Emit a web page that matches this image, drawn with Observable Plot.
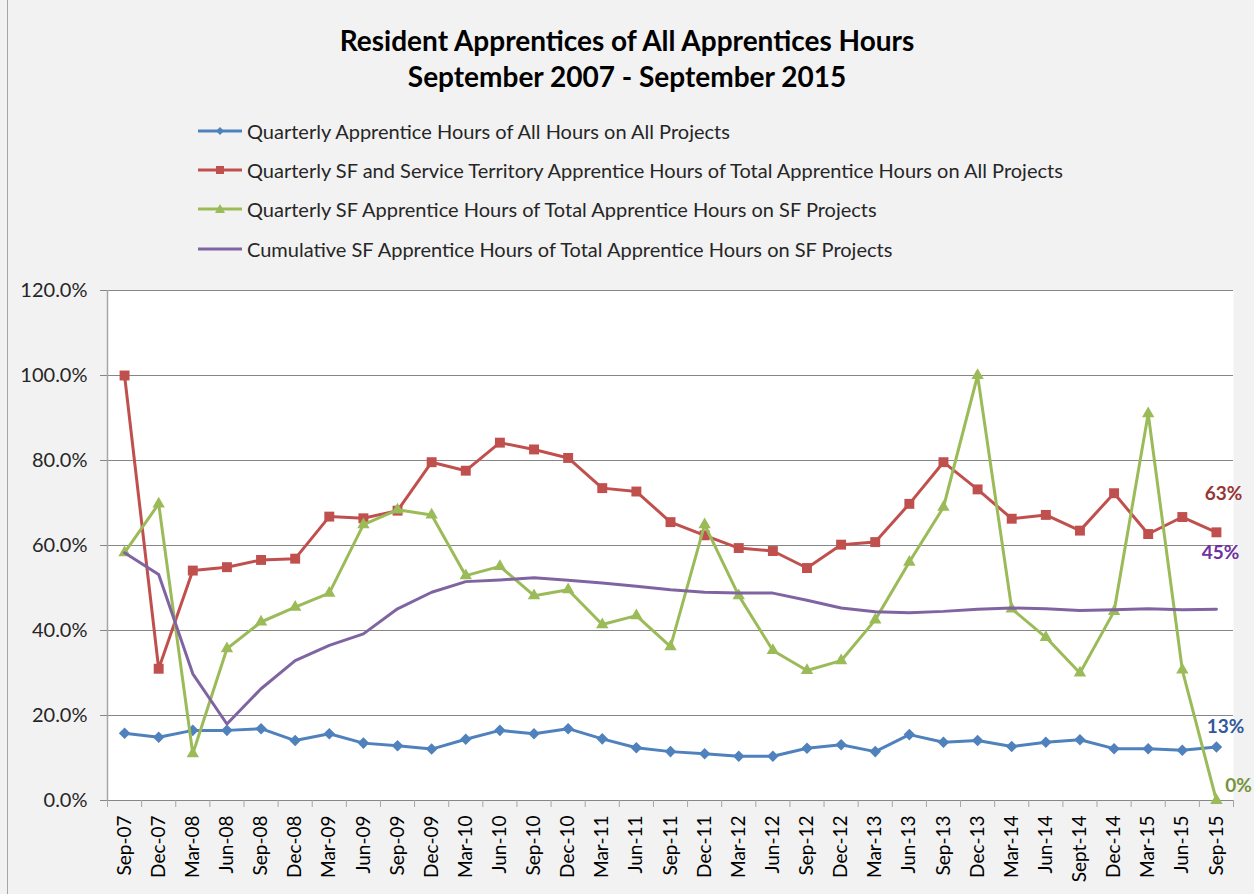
<!DOCTYPE html>
<html><head><meta charset="utf-8">
<script src="https://cdn.jsdelivr.net/npm/d3@7"></script>
<script src="https://cdn.jsdelivr.net/npm/@observablehq/plot@0.6"></script>
<style>
html,body{margin:0;padding:0;background:#f2f2f2;}
#wrap{position:relative;width:1254px;height:894px;background:#f2f2f2;font-family:Lato, "Open Sans", sans-serif;overflow:hidden}
#title{position:absolute;left:0;top:22px;width:1254px;text-align:center;font-weight:bold;font-size:28px;line-height:36px;color:#000}
#legend{position:absolute;left:196px;top:111px;}
.row{height:39.4px;display:flex;align-items:center;font-size:20px;color:#262626;white-space:nowrap}
.row svg{margin-right:3px}
#chart{position:absolute;left:0;top:270px}
#border{position:absolute;left:7px;top:0;width:1px;height:894px;background:#a6a6a6}
</style></head>
<body>
<div id="wrap">
  <div id="border"></div>
  <div id="title">Resident Apprentices of All Apprentices Hours<br>September 2007 - September 2015</div>
  <div id="legend"></div>
  <div id="chart"></div>
</div>
<script>
const categories = ["Sep-07","Dec-07","Mar-08","Jun-08","Sep-08","Dec-08","Mar-09","Jun-09","Sep-09","Dec-09","Mar-10","Jun-10","Sep-10","Dec-10","Mar-11","Jun-11","Sep-11","Dec-11","Mar-12","Jun-12","Sep-12","Dec-12","Mar-13","Jun-13","Sep-13","Dec-13","Mar-14","Jun-14","Sept-14","Dec-14","Mar-15","Jun-15","Sep-15"];
const quarterlyAll = [15.8,14.9,16.5,16.5,16.9,14.1,15.7,13.5,12.9,12.1,14.4,16.5,15.7,16.9,14.5,12.4,11.5,11.0,10.4,10.4,12.3,13.1,11.5,15.5,13.7,14.1,12.7,13.7,14.3,12.2,12.2,11.8,12.6];
const quarterlySFService = [100,31.0,54.1,54.9,56.6,56.9,66.8,66.4,68.2,79.6,77.6,84.2,82.6,80.6,73.5,72.7,65.5,62.4,59.4,58.7,54.7,60.2,60.8,69.8,79.6,73.2,66.3,67.2,63.5,72.3,62.7,66.7,63.1];
const quarterlySF = [58.3,69.8,11.0,35.7,42.0,45.5,48.8,64.9,68.4,67.2,52.9,55.1,48.2,49.6,41.4,43.5,36.2,64.9,48.2,35.3,30.6,32.9,42.5,56.1,69.0,100,45.1,38.4,30.0,44.5,91.0,30.7,0];
const cumulativeSF = [58.3,53.2,29.8,18.0,26.3,32.9,36.5,39.2,45.1,49.0,51.5,51.9,52.4,51.8,51.2,50.4,49.6,49.0,48.8,48.8,47.1,45.3,44.4,44.2,44.5,45.0,45.3,45.1,44.7,44.9,45.1,44.9,45.0];
const seriesNames = [
  "Quarterly Apprentice Hours of All Hours on All Projects",
  "Quarterly SF and Service Territory Apprentice Hours of Total Apprentice Hours on All Projects",
  "Quarterly SF Apprentice Hours of Total Apprentice Hours on SF Projects",
  "Cumulative SF Apprentice Hours of Total Apprentice Hours on SF Projects"
];
const yTicks = [0,20,40,60,80,100,120];

const colors = ["#4F81BD","#C0504D","#9BBB59","#8064A2"];
const labelColors = ["#31599A","#953735","#77933C","#7030A0"];
const allValues = [quarterlyAll, quarterlySFService, quarterlySF, cumulativeSF];

// legend
const swatchMarker = [
  c => `<path d="M24,6 L28,10 L24,14 L20,10 Z" fill="${c}"/>`,
  c => `<rect x="20" y="6" width="8" height="8" fill="${c}"/>`,
  c => `<path d="M24,5 L29,14 L19,14 Z" fill="${c}"/>`,
  c => ``
];
const legend = document.getElementById("legend");
seriesNames.forEach((name, k) => {
  const row = document.createElement("div");
  row.className = "row";
  row.innerHTML = `<svg width="48" height="20"><line x1="2" x2="46" y1="10" y2="10" stroke="${colors[k]}" stroke-width="3"/>${swatchMarker[k](colors[k])}</svg><span>${name}</span>`;
  legend.appendChild(row);
});

const rows = [];
allValues.forEach((vals, k) => vals.forEach((v, i) => rows.push({i, cat: categories[i], value: v, series: seriesNames[k], k})));
const ser = k => rows.filter(d => d.k === k);
const last = categories.length - 1;
const endLabels = [
  {k:0, dx:9, dy:-20, weight:"bold"},
  {k:1, dx:7, dy:-38, weight:"bold"},
  {k:2, dx:22, dy:-15, weight:"bold"},
  {k:3, dx:4, dy:-56, weight:"bold"}
];

const marks = [
  Plot.frame({fill: "white", stroke: null}),
  Plot.ruleY(yTicks, {stroke: "#868686", strokeWidth: 1}),
  Plot.ruleX([-0.5], {stroke: "#a6a6a6", strokeWidth: 1.5}),
  Plot.axisY({ticks: yTicks, tickFormat: d => d.toFixed(1) + "%", tickSize: 7, tickPadding: 13, stroke: "#868686", fontSize: 20, label: null}),
  Plot.axisX({ticks: d3.range(-0.5, categories.length, 1), tickFormat: () => "", tickSize: 7, label: null, stroke: "#a6a6a6"}),
  Plot.axisX({ticks: d3.range(categories.length), tickFormat: i => categories[i], tickSize: 0, tickPadding: 15, tickRotate: -90, fontSize: 19, label: null, fill: "#000"})
];
const dotOpts = [
  {symbol: "square", r: 4.6, rotate: 45},
  {symbol: "square", r: 5.6},
  {symbol: "triangle", r: 4.6},
  null
];
[0,1,2,3].forEach(k => {
  marks.push(Plot.line(ser(k), {x: "i", y: "value", stroke: colors[k], strokeWidth: 3, strokeLinejoin: "round"}));
  if (dotOpts[k]) marks.push(Plot.dot(ser(k), {x: "i", y: "value", fill: colors[k], stroke: null, ...dotOpts[k]}));
});
endLabels.forEach(l => {
  marks.push(Plot.text(ser(l.k).filter(d => d.i === last), {x: "i", y: "value", text: d => Math.round(d.value) + "%", dx: l.dx, dy: l.dy, fill: labelColors[l.k], fontSize: 19, fontWeight: l.weight}));
});

const chart = Plot.plot({
  width: 1254, height: 624,
  marginLeft: 107, marginRight: 21, marginTop: 20, marginBottom: 94,
  style: {background: "transparent", fontFamily: "Lato, 'Open Sans', sans-serif", fontSize: "16px", color: "#262626", overflow: "visible"},
  x: {type: "linear", domain: [-0.5, categories.length - 0.5]},
  y: {domain: [0, 120]},
  marks
});
document.getElementById("chart").appendChild(chart);
</script>
</body></html>
